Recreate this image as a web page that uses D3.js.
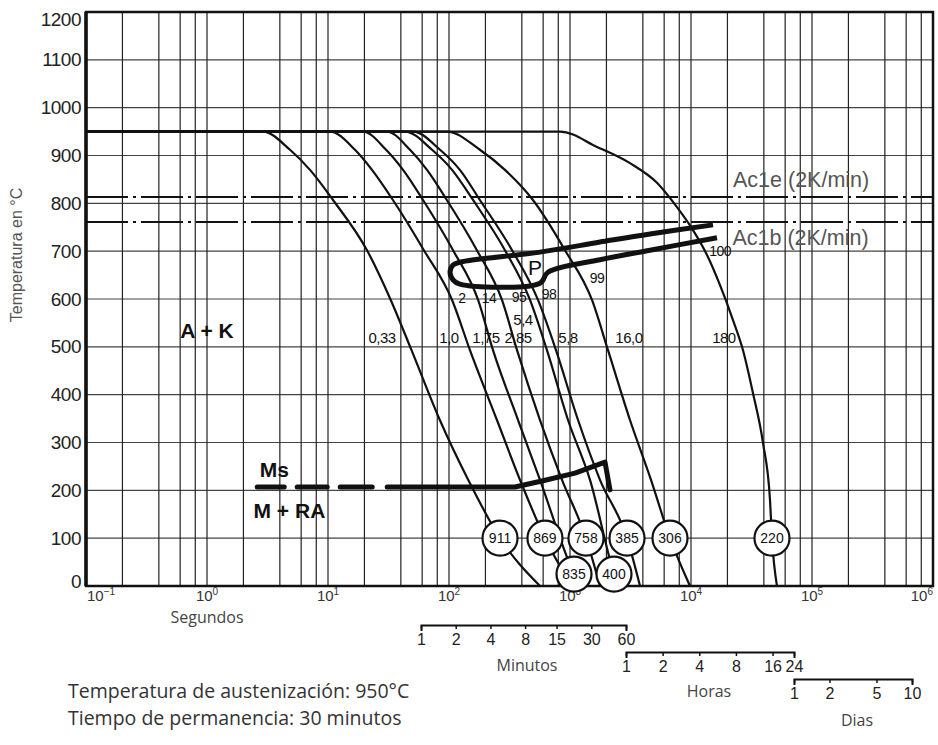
<!DOCTYPE html>
<html>
<head>
<meta charset="utf-8">
<script src="https://cdn.jsdelivr.net/npm/d3@7"></script>
<style>
  body { margin: 0; background: #fff; }
  svg text { font-family: "Liberation Sans", Arial, sans-serif; }
  .note { font-family: "Open Sans", sans-serif !important; }
</style>
</head>
<body>
<svg id="cct" width="938" height="745"></svg>
<script>
// temperatures and times (seconds, degC)
var tempTicks = [0, 100, 200, 300, 400, 500, 600, 700, 800, 900, 1000, 1100, 1200];
var decades = [0.1, 1, 10, 100, 1000, 10000, 100000, 1000000];
var decadeExp = ["\u22121", "0", "1", "2", "3", "4", "5", "6"];
var gridTimes = [0.2, 0.4, 0.6, 0.8, 1, 2, 4, 6, 8, 10, 20, 40, 60, 80, 100, 200, 400, 600, 800,
                 1000, 2000, 4000, 6000, 8000, 10000, 20000, 40000, 60000, 80000,
                 100000, 200000, 400000, 600000, 800000];
var minuteTicks = [1, 2, 4, 8, 15, 30, 60];
var hourTicks = [1, 2, 4, 8, 16, 24];
var dayTicks = [1, 2, 5, 10];

var ac1e = 813, ac1b = 761;

// cooling curves [t (s), T (degC)]
var c033 = [[0.1,950],[2.9,950],[4.85,912],[7.1,870],[11,807],[21,702],[33,598],[49,493],[84,347],[144,222],[264,100],[565,0]];
var c10  = [[0.1,950],[10.4,950],[16.7,912],[23.1,870],[34.4,807],[62,702],[106,598],[149,493],[249,347],[386,222],[621,100],[1040,0]];
var c175 = [[0.1,950],[19.5,950],[30.2,912],[41.7,870],[61,807],[108,702],[174,598],[231,493],[372,347],[565,222],[1079,25],[1209,0]];
var c285 = [[0.1,950],[30.7,950],[47.6,912],[65.8,870],[96,807],[170,702],[274,598],[365,493],[565,347],[859,222],[1356,100],[1769,0]];
var c54  = [[0.1,950],[43.3,950],[72.4,912],[106,870],[158,807],[290,702],[467,598],[645,493],[963,347],[1463,222],[2310,25],[2490,0]];
var c58  = [[0.1,950],[50.4,950],[84.3,912],[123,870],[180,807],[332,702],[544,598],[766,493],[1165,347],[1769,222],[2960,100],[3790,0]];
var c160 = [[0.1,950],[96.3,950],[180,912],[290,870],[494,807],[909,702],[1519,598],[2061,493],[3131,347],[4670,222],[6705,100],[9810,0]];
var c180 = [[0.1,950],[827,950],[1672,918],[3131,884],[5236,843],[7658,792],[10390,744],[13560,692],[17370,629],[22240,556],[26900,493],[32540,403],[39360,299],[44960,180],[46700,100],[51360,0]];

// hardness HV circles
var hvValues = [911, 869, 835, 758, 400, 385, 306, 220];
var hvPoints = [[264,100],[621,100],[1079,25],[1356,100],[2310,25],[2960,100],[6705,100],[46700,100]];

// cooling parameter labels
var rateLabels = ["0,33", "1,0", "1,75", "2,85", "5,4", "5,8", "16,0", "180"];
var ratePoints = [[28,518],[100,518],[202,518],[372,518],[409,556],[963,518],[3070,518],[18700,518]];

// pearlite percentages
var pearLabels = ["2", "14", "95", "98", "99", "100"];
var pearPoints = [[128,602],[214,602],[379,604],[670,610],[1672,644],[17400,700]];

// pearlite field outline
var pField = [[15200,755],[4580,736],[1770,719],[565,698],[123,677],[108,671],[102,656],[108,640],[123,631],
              [565,633],[658,656],[1770,682],[4580,702],[16400,728]];

// Ms line
var msLine = [[2.6,207],[351,207],[598,220],[1100,236],[1947,259],[2141,201]];

var svg = d3.select("#cct");
var x = d3.scaleLog().domain([0.1, 1e6]).range([86, 933]);
var y = d3.scaleLinear().domain([0, 1200]).range([586, 12]);

// grid
svg.append("g").selectAll("line").data(tempTicks.slice(1, -1)).enter().append("line")
    .attr("x1", x(0.1)).attr("x2", x(1e6))
    .attr("y1", function(d) { return y(d); }).attr("y2", function(d) { return y(d); })
    .attr("stroke", "#444").attr("stroke-width", 1.1);

svg.append("g").selectAll("line").data(gridTimes).enter().append("line")
    .attr("x1", function(d) { return x(d); }).attr("x2", function(d) { return x(d); })
    .attr("y1", y(1200)).attr("y2", y(0))
    .attr("stroke", "#222").attr("stroke-width", 1.2);

// Ac1 lines
[ac1e, ac1b].forEach(function(t) {
  svg.append("line")
      .attr("x1", x(0.1)).attr("x2", x(1e6))
      .attr("y1", y(t)).attr("y2", y(t))
      .attr("stroke", "#111").attr("stroke-width", 2)
      .attr("stroke-dasharray", "42 5 3 5");
});
svg.append("text").attr("x", x(22240)).attr("y", y(834))
    .attr("font-size", 21.5).attr("fill", "#555").text("Ac1e (2K/min)");
svg.append("text").attr("x", x(22000)).attr("y", y(713))
    .attr("font-size", 21.5).attr("fill", "#555").text("Ac1b (2K/min)");

// frame
svg.append("rect")
    .attr("x", x(0.1)).attr("y", y(1200))
    .attr("width", x(1e6) - x(0.1)).attr("height", y(0) - y(1200))
    .attr("fill", "none").attr("stroke", "#111").attr("stroke-width", 2.5);
svg.append("line").attr("x1", x(0.1)).attr("x2", x(0.1)).attr("y1", y(1200)).attr("y2", y(0))
    .attr("stroke", "#111").attr("stroke-width", 3.5);

// y tick labels
svg.append("g").selectAll("text").data(tempTicks).enter().append("text")
    .attr("x", 81)
    .attr("y", function(d) { return y(d) + (d === 1200 ? 7 : d === 0 ? -5 : 0); })
    .attr("dy", "0.35em")
    .attr("text-anchor", "end")
    .attr("font-size", 19).attr("letter-spacing", -0.5).attr("fill", "#222")
    .text(function(d) { return d; });

svg.append("text")
    .attr("transform", "translate(22,255) rotate(-90)")
    .attr("text-anchor", "middle").attr("font-size", 16).attr("fill", "#555")
    .text("Temperatura en \u00b0C");

// x decade labels
var dl = svg.append("g").selectAll("text").data(decades).enter().append("text")
    .attr("x", function(d, i) { return i === 0 ? x(d) + 1 : x(d); })
    .attr("y", 601)
    .attr("text-anchor", function(d, i) { return i === 0 ? "start" : i === decades.length - 1 ? "end" : "middle"; })
    .attr("font-size", 15).attr("fill", "#333");
dl.append("tspan").text("10");
dl.append("tspan").attr("dy", -6).attr("font-size", 10).text(function(d, i) { return decadeExp[i]; });

svg.append("text").attr("class", "note").attr("x", x(1)).attr("y", 623)
    .attr("text-anchor", "middle").attr("font-size", 16).attr("fill", "#444").text("Segundos");

// cooling curves
var line = d3.line()
    .x(function(d) { return x(d[0]); })
    .y(function(d) { return y(d[1]); })
    .curve(d3.curveMonotoneX);

var curves = [c033, c10, c175, c285, c54, c58, c160, c180];
svg.append("g").selectAll("path").data(curves).enter().append("path")
    .attr("d", line)
    .attr("fill", "none").attr("stroke", "#111").attr("stroke-width", 2.2);

// pearlite field
svg.append("path")
    .attr("d", d3.line().x(function(d) { return x(d[0]); }).y(function(d) { return y(d[1]); })
      .curve(d3.curveCatmullRom.alpha(0.5))(pField))
    .attr("fill", "none").attr("stroke", "#111").attr("stroke-width", 5)
    .attr("stroke-linejoin", "round");
svg.append("text").attr("x", x(513)).attr("y", y(665)).attr("dy", "0.35em")
    .attr("text-anchor", "middle").attr("font-size", 21).attr("fill", "#111").text("P");

// Ms line
svg.append("path")
    .attr("d", d3.line().x(function(d) { return x(d[0]); }).y(function(d) { return y(d[1]); })(msLine))
    .attr("fill", "none").attr("stroke", "#111").attr("stroke-width", 5)
    .attr("stroke-linecap", "round").attr("stroke-linejoin", "round")
    .attr("stroke-dasharray", "27 13 30 13 32 15 2000");

// labels
svg.append("g").selectAll("text").data(rateLabels).enter().append("text")
    .attr("x", function(d, i) { return x(ratePoints[i][0]); })
    .attr("y", function(d, i) { return y(ratePoints[i][1]); })
    .attr("dy", "0.35em").attr("text-anchor", "middle")
    .attr("font-size", 15).attr("letter-spacing", -0.5).attr("fill", "#111")
    .text(function(d) { return d; });

svg.append("g").selectAll("text").data(pearLabels).enter().append("text")
    .attr("x", function(d, i) { return x(pearPoints[i][0]); })
    .attr("y", function(d, i) { return y(pearPoints[i][1]); })
    .attr("dy", "0.35em").attr("text-anchor", "middle")
    .attr("font-size", 14).attr("letter-spacing", -0.5).attr("fill", "#111")
    .text(function(d) { return d; });

var bold = [["A + K", 1.0, 533], ["Ms", 3.6, 243], ["M + RA", 4.8, 157]];
svg.append("g").selectAll("text").data(bold).enter().append("text")
    .attr("x", function(d) { return x(d[1]); })
    .attr("y", function(d) { return y(d[2]); })
    .attr("dy", "0.35em").attr("text-anchor", "middle")
    .attr("font-size", 21).attr("font-weight", "bold").attr("fill", "#111")
    .text(function(d) { return d[0]; });

// hardness circles
var hv = svg.append("g").selectAll("g").data(hvValues).enter().append("g")
    .attr("transform", function(d, i) { return "translate(" + x(hvPoints[i][0]) + "," + y(hvPoints[i][1]) + ")"; });
hv.append("circle").attr("r", 17.5).attr("fill", "#fff").attr("stroke", "#111").attr("stroke-width", 2.2);
hv.append("text").attr("dy", "0.36em").attr("text-anchor", "middle")
    .attr("font-size", 14).attr("fill", "#111").text(function(d) { return d; });

// secondary time scales
function unitAxis(scale, ticks, ypos, label, lx, ly) {
  var g = svg.append("g").attr("transform", "translate(0," + ypos + ")")
      .call(d3.axisBottom(scale).tickValues(ticks).tickFormat(function(d) { return d; })
            .tickSize(4).tickSizeOuter(6).tickPadding(5));
  g.attr("font-family", null).attr("font-size", null);
  g.select(".domain").attr("stroke", "#111").attr("stroke-width", 2);
  g.selectAll(".tick line").attr("stroke", "#111").attr("stroke-width", 1.5);
  g.selectAll(".tick text").attr("font-size", 16).attr("fill", "#222");
  svg.append("text").attr("class", "note").attr("x", lx).attr("y", ly)
      .attr("text-anchor", "middle").attr("font-size", 16).attr("fill", "#444").text(label);
}
unitAxis(d3.scaleLog().domain([1, 60]).range([421, 626]), minuteTicks, 625, "Minutos", 527, 671);
unitAxis(d3.scaleLog().domain([1, 24]).range([626, 794]), hourTicks, 652, "Horas", 709, 697);
unitAxis(d3.scaleLog().domain([1, 10]).range([794, 912]), dayTicks, 679, "Dias", 857, 726);

// notes
svg.append("text").attr("class", "note").attr("x", 68).attr("y", 698)
    .attr("font-size", 19.5).attr("fill", "#333").text("Temperatura de austenizaci\u00f3n: 950\u00b0C");
svg.append("text").attr("class", "note").attr("x", 68).attr("y", 725)
    .attr("font-size", 19.5).attr("fill", "#333").text("Tiempo de permanencia: 30 minutos");
</script>
</body>
</html>
